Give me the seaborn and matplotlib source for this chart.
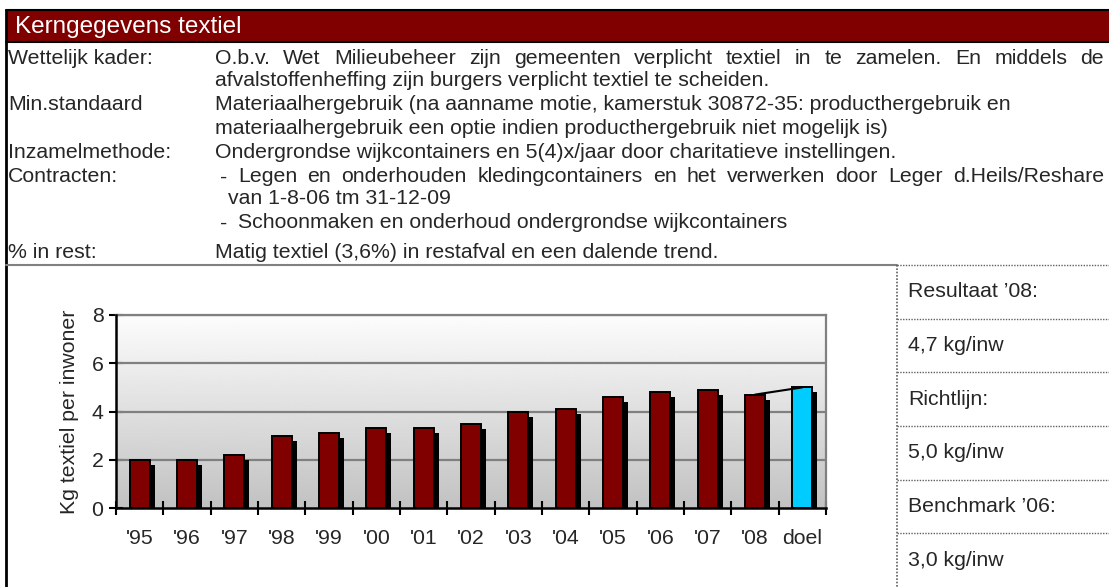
import matplotlib
matplotlib.use("Agg")
import matplotlib.pyplot as plt
import matplotlib.patheffects as pe
from matplotlib.patches import Rectangle
import numpy as np
import seaborn as sns

sns.set_theme(style="white")
plt.rcParams['font.family'] = ['Liberation Sans', 'DejaVu Sans']

# data
years = ["'95", "'96", "'97", "'98", "'99", "'00", "'01", "'02",
         "'03", "'04", "'05", "'06", "'07", "'08", "doel"]
kg_per_inw = [2.0, 2.0, 2.2, 3.0, 3.1, 3.3, 3.3, 3.5,
              4.0, 4.1, 4.6, 4.8, 4.9, 4.7, 5.0]
bar_colors = ["#800000"] * 14 + ["#00CCFF"]
y_ticks = [0, 2, 4, 6, 8]

title = "Kerngegevens textiel"
row_labels = ["Wettelijk kader:", "", "Min.standaard", "", "Inzamelmethode:",
              "Contracten:", "", "", "% in rest:"]
row_texts = [
    "O.b.v. Wet Milieubeheer zijn gemeenten verplicht textiel in te zamelen. En middels de",
    "afvalstoffenheffing zijn burgers verplicht textiel te scheiden.",
    "Materiaalhergebruik (na aanname motie, kamerstuk 30872-35: producthergebruik en",
    "materiaalhergebruik een optie indien producthergebruik niet mogelijk is)",
    "Ondergrondse wijkcontainers en 5(4)x/jaar door charitatieve instellingen.",
    "- Legen en onderhouden kledingcontainers en het verwerken door Leger d.Heils/Reshare",
    "van 1-8-06 tm 31-12-09",
    "- Schoonmaken en onderhoud ondergrondse wijkcontainers",
    "Matig textiel (3,6%) in restafval en een dalende trend.",
]
justified_rows = [0, 5]
side_texts = ["Resultaat \u201908:", "4,7 kg/inw", "Richtlijn:", "5,0 kg/inw",
              "Benchmark \u201906:", "3,0 kg/inw"]

W, H = 1109, 587
fig = plt.figure(figsize=(W / 100, H / 100), dpi=100)

# overlay in pixel coordinates (origin top-left)
bg = fig.add_axes([0, 0, 1, 1])
bg.set_xlim(0, W)
bg.set_ylim(H, 0)
bg.axis("off")

# header bar
bg.add_patch(Rectangle((6, 10), W - 6, 32, facecolor="#800000", edgecolor="none"))
bg.plot([6, W], [10, 10], color="black", lw=1.5)
bg.plot([6, W], [42, 42], color="black", lw=1.5)
bg.text(15, 27, title, color="white", fontsize=17.5, va="center", ha="left")
bg.plot([6, 6], [10, H], color="black", lw=2)

renderer = fig.canvas.get_renderer()
col_x = 215
row_y = [58, 81, 105, 128, 153, 177, 199, 223, 252]
fs = 15.3


def justify(words, x0, x1, y):
    texts = [bg.text(0, y, w, fontsize=fs, va="center", ha="left") for w in words]
    widths = [t.get_window_extent(renderer).width for t in texts]
    gap = (x1 - x0 - sum(widths)) / (len(words) - 1)
    x = x0
    for t, w in zip(texts, widths):
        t.set_x(x)
        x += w + gap


for i, (lab, txt) in enumerate(zip(row_labels, row_texts)):
    y = row_y[i]
    if lab:
        bg.text(8, y, lab, fontsize=fs, va="center", ha="left")
    x = col_x
    if txt.startswith("- "):
        bg.text(col_x + 5, y, "-", fontsize=fs, va="center", ha="left")
        txt = txt[2:]
        x = col_x + 23
    elif txt.startswith("van"):
        x = col_x + 13
    if i in justified_rows:
        justify(txt.split(" "), x, 1104, y)
    else:
        bg.text(x, y, txt, fontsize=fs, va="center", ha="left")

# separator and side boxes
bg.plot([6, 897], [265, 265], color="#808080", lw=1.5)
box_edges = np.linspace(265, H, 7)
bg.plot([897, 897], [265, H], color="#606060", lw=1.2, ls=(0, (1, 1)))
for yy in box_edges[:-1]:
    bg.plot([897, W], [yy, yy], color="#606060", lw=1.0, ls=(0, (1, 1)))
for k, s in enumerate(side_texts):
    yc = (box_edges[k] + box_edges[k + 1]) / 2
    bg.text(908, yc, s, fontsize=fs, va="center", ha="left")

# bar chart
ax = fig.add_axes([116 / W, (H - 508) / H, 710 / W, 193 / H])
grad = np.linspace(0.99, 0.76, 256).reshape(-1, 1)
ax.imshow(grad, cmap="gray", vmin=0, vmax=1, aspect="auto",
          extent=[0, 1, 0, 1], transform=ax.transAxes, zorder=0)

sns.barplot(x=years, y=kg_per_inw, hue=years, palette=bar_colors, legend=False,
            width=0.42, edgecolor="black", linewidth=1.4, saturation=1,
            ax=ax, zorder=3)
for p in ax.patches:
    p.set_path_effects([pe.SimplePatchShadow(offset=(3.6, -3.6), shadow_rgbFace="black",
                                             alpha=1.0), pe.Normal()])

ax.plot([13, 14], kg_per_inw[-2:], color="black", lw=1.5, zorder=4)

ax.set_xlim(-0.5, 14.5)
ax.set_ylim(0, 8)
ax.set_yticks(y_ticks)
ax.set_yticklabels([str(v) for v in y_ticks], fontsize=fs)
for v in y_ticks[1:]:
    ax.axhline(v, color="#808080", lw=1.6, zorder=1)

ax.set_xticks(range(len(years)))
ax.set_xticklabels(years, fontsize=fs)
ax.set_xticks(np.arange(-0.5, 15, 1), minor=True)
ax.tick_params(axis="x", which="major", length=0, pad=15)
ax.tick_params(axis="x", which="minor", direction="inout", length=10, width=1.5,
               color="black", bottom=True)
ax.tick_params(axis="y", direction="inout", length=10, width=1.5, color="black",
               left=True, pad=4)
ax.set_xlabel("")
ax.set_ylabel("Kg textiel per inwoner", fontsize=fs, labelpad=9)

for side in ["top", "right"]:
    ax.spines[side].set_color("#808080")
    ax.spines[side].set_linewidth(1.6)
for side in ["left", "bottom"]:
    ax.spines[side].set_color("black")
    ax.spines[side].set_linewidth(1.8)
    ax.spines[side].set_zorder(5)

fig.savefig("out.png", dpi=100)
